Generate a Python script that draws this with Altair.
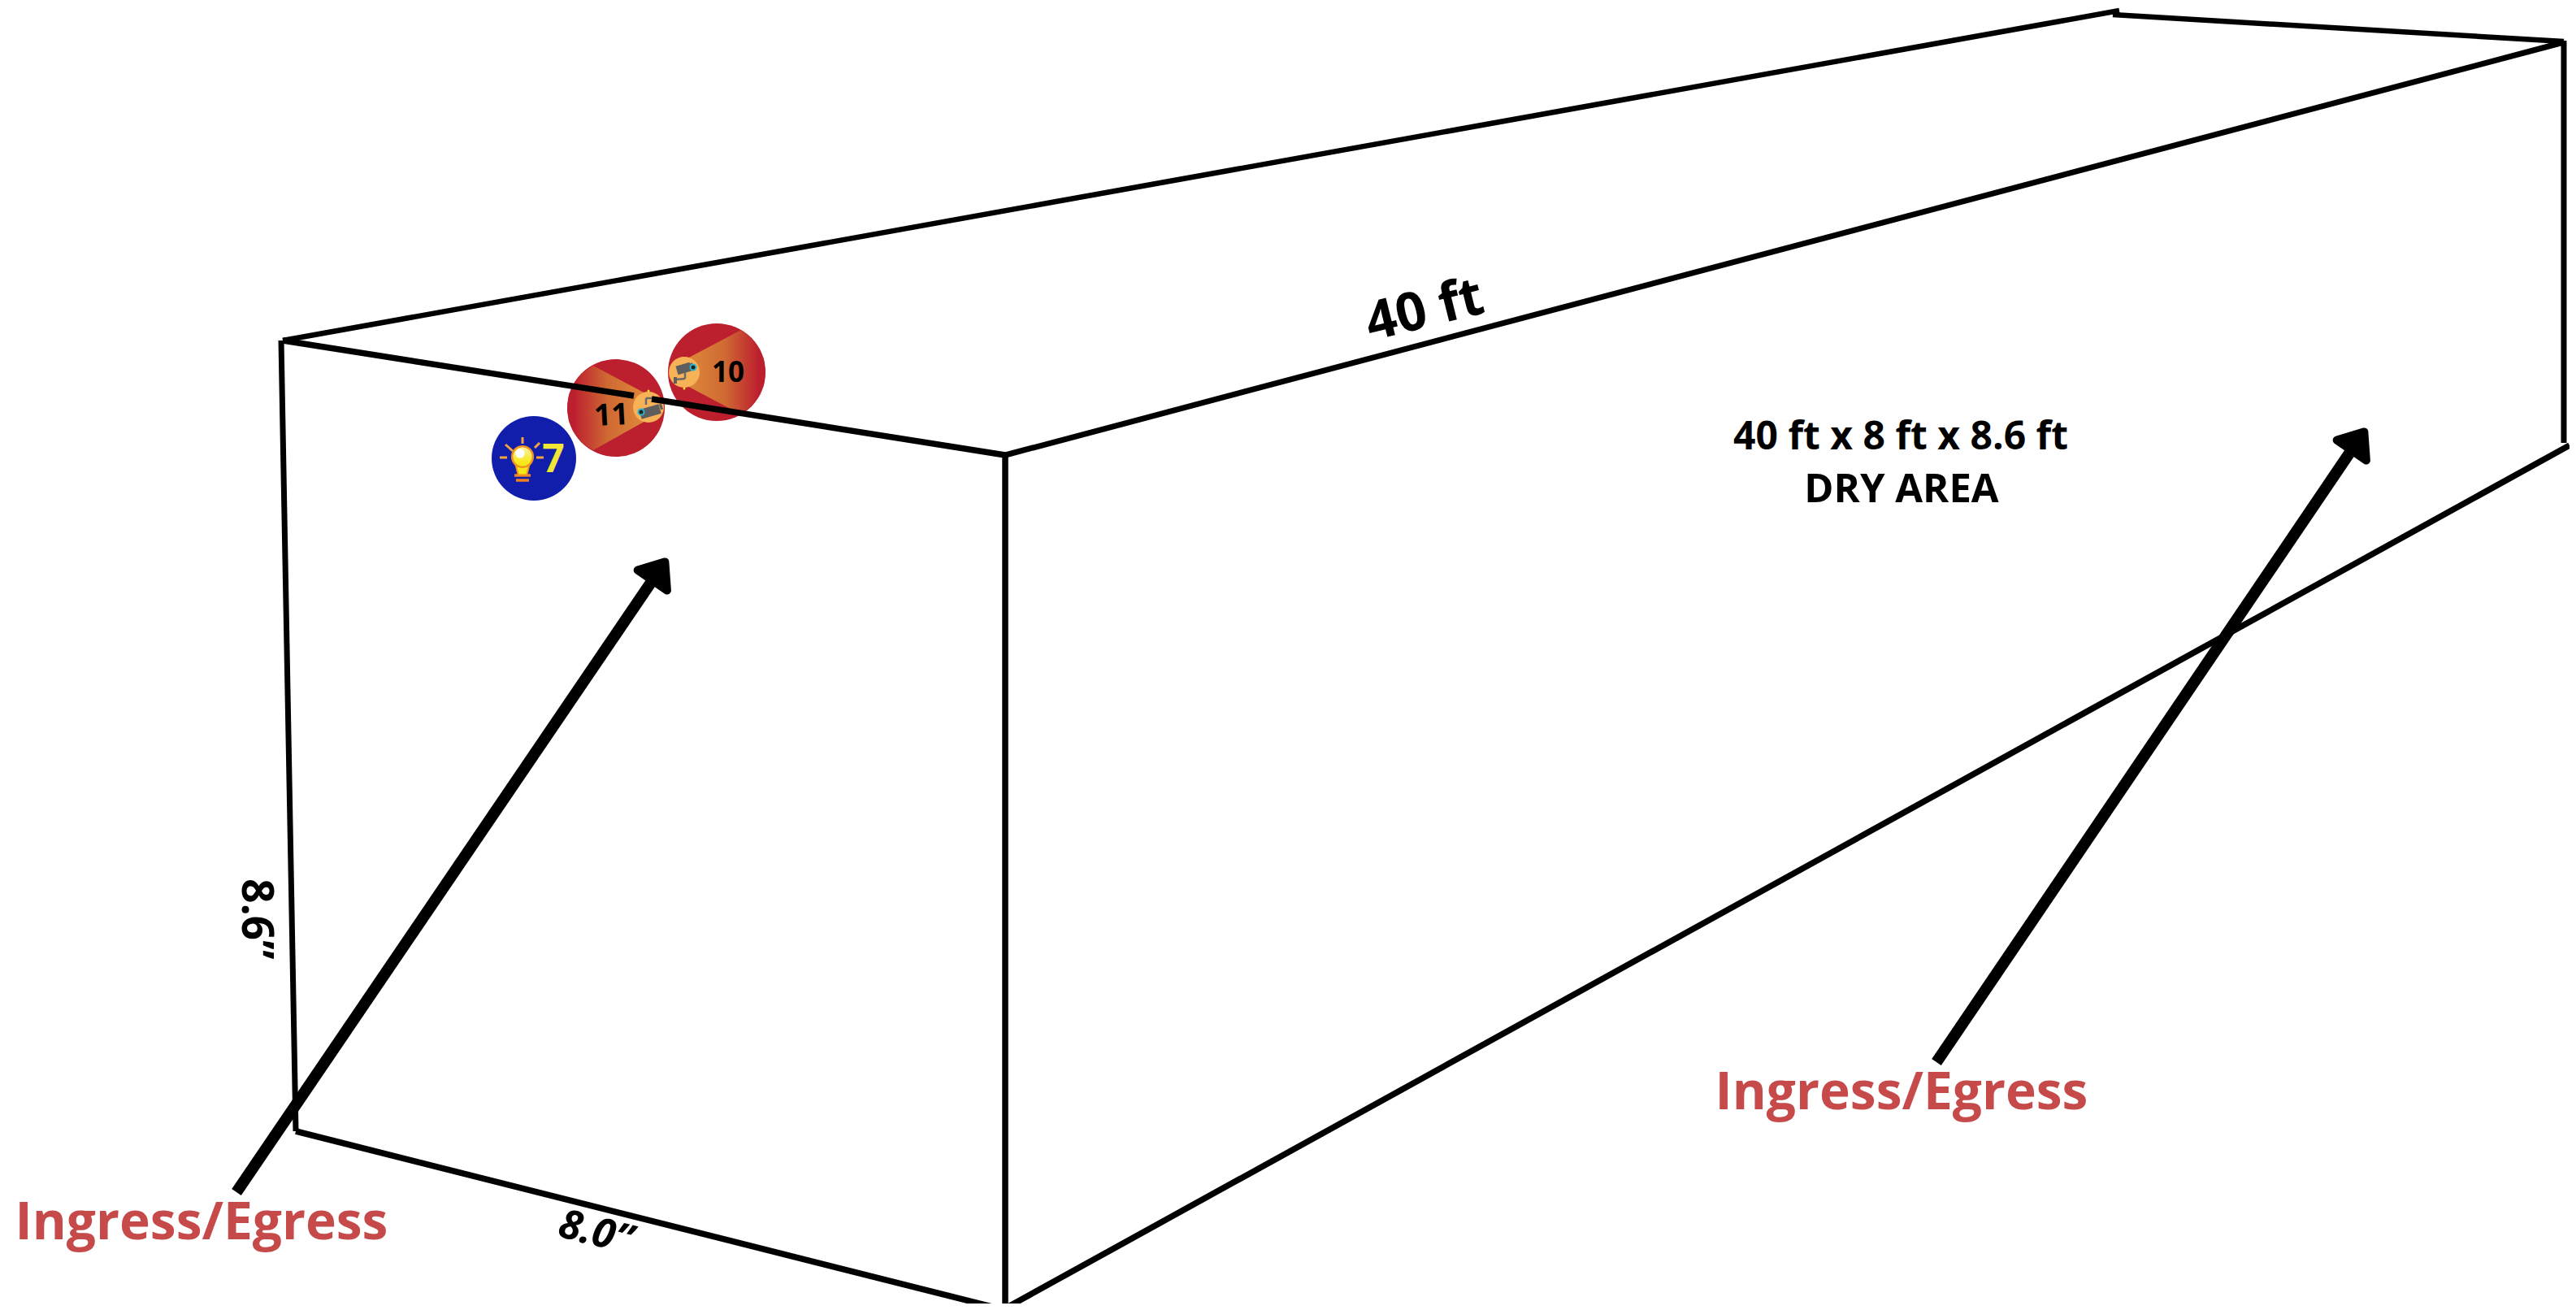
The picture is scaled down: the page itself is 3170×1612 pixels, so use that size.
import altair as alt
import pandas as pd

# Box outline (picture pixels)
edge_x1 = [348, 2600, 346, 364, 348, 802, 1237, 1237, 3155, 3162]
edge_y1 = [419, 18, 419, 1392, 419, 491, 560, 560, 50, 548]
edge_x2 = [2608, 3155, 364, 1237, 780, 1237, 1237, 3155, 3155, 1237]
edge_y2 = [13, 51, 1392, 1612, 487, 560, 1612, 52, 545, 1610]
edge_w = [6.5, 6.5, 7, 7.5, 7.5, 7.5, 7.5, 7, 7, 7.5]

# Arrows
shaft_x1 = [291, 2383]
shaft_y1 = [1467, 1307]
shaft_x2 = [805, 2895]
shaft_y2 = [711, 552]
head_x = [809, 2900]
head_y = [705, 545]

# Badges
badge_x = [657, 758, 882, 798, 842]
badge_y = [564, 502, 458, 501, 458]
badge_d = [104, 120, 120, 38, 38]
badge_c = ["#111eab", "#bc1f2e", "#bc1f2e", "#f7b257", "#f7b257"]

# Camera light wedges
w11_x = [698, 700, 705, 715, 730, 798]
w11_top = [502, 486, 474, 460, 450, 486]
w11_bot = [502, 518, 530, 544, 554, 516]
w10_x = [842, 912, 925, 935, 940, 942]
w10_top = [443, 406, 416, 430, 442, 458]
w10_bot = [473, 510, 500, 486, 474, 458]

# Camera and bulb strokes
part_x1 = [833, 850, 843, 831, 831, 788, 812, 795, 795, 643, 615, 658, 622, 660, 633, 635]
part_y1 = [456, 451, 458, 467, 464, 510, 501, 498, 490, 538, 563, 551, 547, 563, 585, 591]
part_x2 = [850, 853, 843, 843, 831, 812, 815, 795, 807, 643, 624, 664, 631, 669, 653, 651]
part_y2 = [451, 450, 466, 466, 472, 503, 500, 490, 490, 546, 563, 545, 555, 563, 585, 591]
part_w = [11, 8, 2.5, 2.5, 4, 12, 7, 2.5, 2.5, 3, 3, 3, 3, 3, 3.5, 3.5]
part_c = ["#5e5e5e", "#5e5e5e", "#6a6a6a", "#6a6a6a", "#5e5e5e", "#5e5e5e", "#5e5e5e",
          "#6a6a6a", "#6a6a6a", "#f5a340", "#f5a340", "#f5a340", "#f5a340", "#f5a340",
          "#f07f22", "#f07f22"]

lens_x = [853, 789]
lens_y = [452, 507]
dot_x = [842, 798]
dot_y = [478, 481]

# Texts
text_str = ["Ingress/Egress", "Ingress/Egress", "40 ft x 8 ft x 8.6 ft", "DRY AREA", "40 ft",
            "8.6”", "8.0”", "11", "10", "7"]
text_x = [248, 2340, 2339, 2340, 1758, 298, 729, 753, 896, 681]
text_y = [1525, 1365, 553, 618, 402, 1131, 1532, 523, 470, 581]
text_size = [64, 64, 48, 49, 66, 53, 50, 37, 35, 48]
text_angle = [0, 0, 0, 0, 346, 90, 14, 357, 0, 0]
text_color = ["#c64a4a", "#c64a4a", "#000000", "#000000", "#000000", "#000000", "#000000",
              "#000000", "#000000", "#f2e634"]
text_style = ["normal"] * 6 + ["italic"] + ["normal"] * 3

X = alt.Scale(domain=[8, 3162], range=[0, 3154])
Y = alt.Scale(domain=[8, 1604], range=[0, 1596])


def rules(x1, y1, x2, y2, w, c):
    df = pd.DataFrame({"x1": x1, "y1": y1, "x2": x2, "y2": y2, "w": w, "c": c})
    return alt.Chart(df).mark_rule().encode(
        x=alt.X("x1:Q", scale=X, axis=None),
        y=alt.Y("y1:Q", scale=Y, axis=None),
        x2="x2:Q",
        y2="y2:Q",
        strokeWidth=alt.StrokeWidth("w:Q", scale=None),
        color=alt.Color("c:N", scale=None),
    )


def points(x, y, size, **kw):
    df = pd.DataFrame({"x": x, "y": y, "s": size})
    return alt.Chart(df).mark_point(filled=True, **kw).encode(
        x=alt.X("x:Q", scale=X, axis=None),
        y=alt.Y("y:Q", scale=Y, axis=None),
        size=alt.Size("s:Q", scale=None),
    )


def wedge(x, top, bot, x1, x2):
    df = pd.DataFrame({"x": x, "t": top, "b": bot})
    grad = alt.LinearGradient(
        gradient="linear",
        stops=[alt.GradientStop(color="#e08a3a", offset=0),
               alt.GradientStop(color="#cf6a33", offset=0.5),
               alt.GradientStop(color="#bc1f2e", offset=0.92)],
        x1=x1, x2=x2, y1=0, y2=0,
    )
    return alt.Chart(df).mark_area(fill=grad, interpolate="linear").encode(
        x=alt.X("x:Q", scale=X, axis=None),
        y=alt.Y("t:Q", scale=Y, axis=None),
        y2="b:Q",
    )


badge_df = pd.DataFrame({"x": badge_x, "y": badge_y, "s": [d * d for d in badge_d], "c": badge_c})
red_blue = alt.Chart(badge_df.iloc[:3]).mark_point(filled=True, opacity=1, strokeWidth=0).encode(
    x=alt.X("x:Q", scale=X, axis=None), y=alt.Y("y:Q", scale=Y, axis=None),
    size=alt.Size("s:Q", scale=None), color=alt.Color("c:N", scale=None),
)
spots = alt.Chart(badge_df.iloc[3:]).mark_point(filled=True, opacity=1, strokeWidth=0).encode(
    x=alt.X("x:Q", scale=X, axis=None), y=alt.Y("y:Q", scale=Y, axis=None),
    size=alt.Size("s:Q", scale=None), color=alt.Color("c:N", scale=None),
)

bulb_grad = alt.LinearGradient(
    gradient="linear",
    stops=[alt.GradientStop(color="#fbf4a8", offset=0), alt.GradientStop(color="#f8e716", offset=0.8)],
    x1=0, x2=0, y1=0, y2=1,
)

layers = [
    red_blue,
    wedge(w11_x, w11_top, w11_bot, 1, 0),
    wedge(w10_x, w10_top, w10_bot, 0, 1),
    spots,
    points(dot_x, dot_y, [9, 9], color="#f5e22a", opacity=1),
    rules(part_x1, part_y1, part_x2, part_y2, part_w, part_c),
    points(lens_x, lens_y, [49, 49], fill="#222222", stroke="#29b4d4", strokeWidth=2, opacity=1),
    points([643], [574], [440], shape="M-1,-1 L1,-1 L0.5,1 L-0.5,1 Z", fill="#f8e716", stroke="#f0921f",
           strokeWidth=2, opacity=1),
    points([643], [562], [660], fill=bulb_grad, stroke="#f0921f", strokeWidth=2.5, opacity=1),
    points([640], [558], [130], color="#ffffff", opacity=1),
    rules(edge_x1, edge_y1, edge_x2, edge_y2, edge_w, ["#000000"] * len(edge_x1)),
    rules(shaft_x1, shaft_y1, shaft_x2, shaft_y2, [14, 14], ["#000000", "#000000"]),
]

for hx, hy in zip(head_x, head_y):
    layers.append(points([hx], [hy], [1936], shape="M0,-0.75 L-1,0.5 L1,0.5 Z", fill="#000000",
                         stroke="#000000", strokeWidth=10, strokeJoin="round", angle=34.5, opacity=1))

for i, s in enumerate(text_str):
    df = pd.DataFrame({"x": [text_x[i]], "y": [text_y[i]], "t": [s]})
    layers.append(
        alt.Chart(df).mark_text(
            font="Open Sans", fontWeight="bold", fontSize=text_size[i], angle=text_angle[i],
            color=text_color[i], fontStyle=text_style[i], align="center", baseline="alphabetic",
        ).encode(
            x=alt.X("x:Q", scale=X, axis=None),
            y=alt.Y("y:Q", scale=Y, axis=None),
            text="t:N",
        )
    )

chart = alt.layer(*layers).properties(
    width=3154, height=1596, padding=0,
    autosize=alt.AutoSizeParams(type="none"),
    background="#ffffff",
).configure_view(stroke=None)

chart.save("out.html", embed_options={"renderer": "svg", "actions": False})
